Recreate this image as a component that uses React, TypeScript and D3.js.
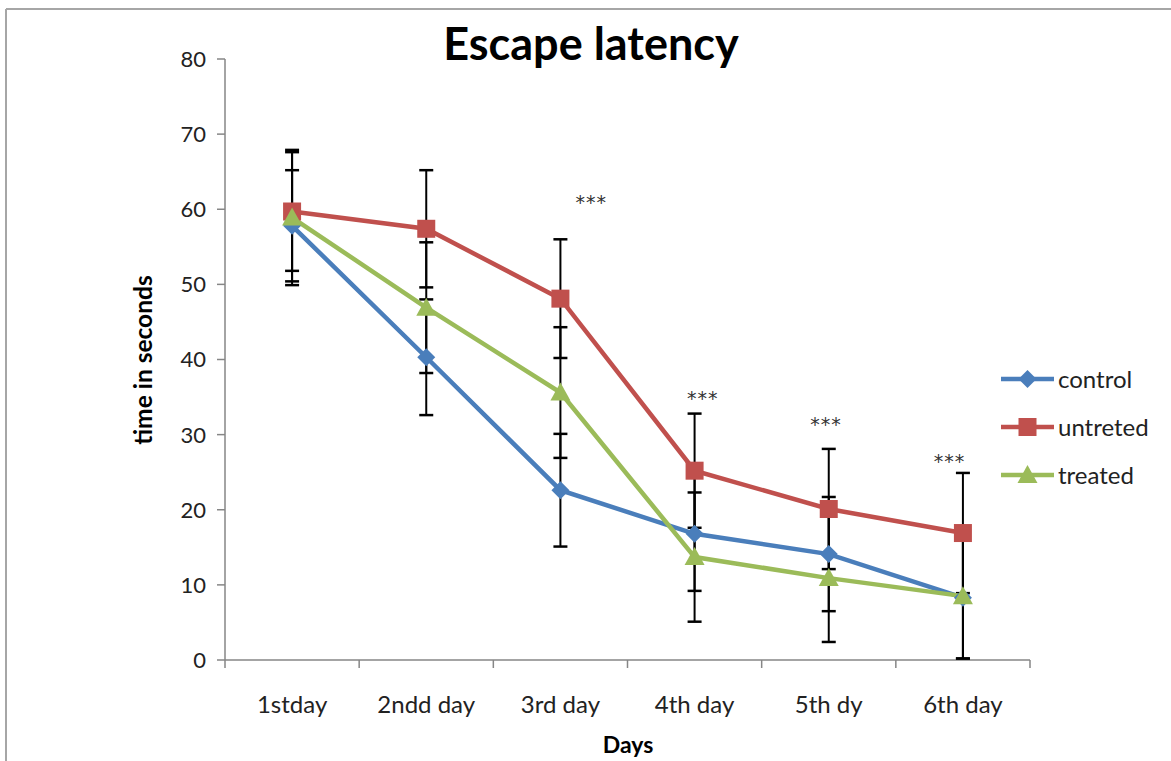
import React from "react";
import * as d3 from "d3";

const days = ["1stday", "2ndd day", "3rd day", "4th day", "5th dy", "6th day"];
const yTicks = [0, 10, 20, 30, 40, 50, 60, 70, 80];

const controlValues = [57.8, 40.3, 22.6, 16.8, 14.1, 8.3];
const controlErrors = [7.4, 7.7, 7.5, 7.6, 7.6, 8.1];
const untretedValues = [59.7, 57.4, 48.1, 25.2, 20.1, 16.9];
const untretedErrors = [7.9, 7.8, 7.9, 7.6, 8.0, 8.0];
const treatedValues = [58.9, 46.9, 35.6, 13.7, 10.9, 8.5];
const treatedErrors = [9.0, 8.7, 8.7, 8.6, 8.5, 8.3];

const seriesNames = ["control", "untreted", "treated"];
const seriesColors = ["#4A7EBB", "#C0504D", "#9BBB59"];
const seriesShapes = ["diamond", "square", "triangle"];

// significance marks: day index, value level
const starDays = [2, 3, 4, 5];
const starLevels = [61.3, 35.2, 31.8, 26.8];
const starShift = [0.23, 0.06, -0.02, -0.1];

const FONT = "Lato, 'Open Sans', sans-serif";

function Marker({ shape, x, y, color }: { shape: string; x: number; y: number; color: string }) {
  if (shape === "square") {
    return <rect x={x - 9} y={y - 9} width={18} height={18} fill={color} />;
  }
  if (shape === "diamond") {
    return <path d={`M${x},${y - 9}L${x + 9},${y}L${x},${y + 9}L${x - 9},${y}Z`} fill={color} />;
  }
  return <path d={`M${x},${y - 10}L${x + 10},${y + 8}L${x - 10},${y + 8}Z`} fill={color} />;
}

export default function App() {
  const W = 1171;
  const H = 761;
  const left = 225;
  const right = 1030;
  const top = 59;
  const bottom = 660;

  const x = d3.scaleBand().domain(days).range([left, right]);
  const y = d3.scaleLinear().domain([0, 80]).range([bottom, top]);
  const cx = (i: number) => (x(days[i]) as number) + x.bandwidth() / 2;

  const series = [
    { values: controlValues, errors: controlErrors },
    { values: untretedValues, errors: untretedErrors },
    { values: treatedValues, errors: treatedErrors },
  ];

  const line = d3
    .line<number>()
    .x((_, i) => cx(i))
    .y((d) => y(d));

  const boundaries = d3.range(days.length + 1).map((i) => left + i * x.bandwidth());

  return (
    <svg width={W} height={H} style={{ position: "absolute", left: 0, top: 0, background: "#fff" }}>
      <rect x={0} y={0} width={W} height={H} fill="#fff" />
      {/* outer frame */}
      <line x1={6} y1={9} x2={W} y2={9} stroke="#a6a6a6" strokeWidth={2} />
      <line x1={6} y1={9} x2={6} y2={H} stroke="#a6a6a6" strokeWidth={2} />

      {/* title */}
      <text x={591} y={60} textAnchor="middle" fontFamily={FONT} fontWeight="bold" fontSize={45} fill="#000">
        Escape latency
      </text>

      {/* y axis */}
      <line x1={left} y1={top} x2={left} y2={bottom} stroke="#868686" strokeWidth={1.5} />
      {yTicks.map((t) => (
        <g key={t}>
          <line x1={left - 8} y1={y(t)} x2={left} y2={y(t)} stroke="#868686" strokeWidth={1.5} />
          <text x={206} y={y(t)} dy="0.36em" textAnchor="end" fontFamily={FONT} fontSize={22} fill="#222">
            {t}
          </text>
        </g>
      ))}

      {/* x axis */}
      <line x1={left} y1={bottom} x2={right} y2={bottom} stroke="#868686" strokeWidth={1.5} />
      {boundaries.map((b, i) => (
        <line key={i} x1={b} y1={bottom} x2={b} y2={bottom + 8} stroke="#868686" strokeWidth={1.5} />
      ))}
      {days.map((d, i) => (
        <text key={d} x={cx(i)} y={704} dy="0.36em" textAnchor="middle" fontFamily={FONT} fontSize={24} fill="#222">
          {d}
        </text>
      ))}

      {/* axis titles */}
      <text x={628} y={745} dy="0.36em" textAnchor="middle" fontFamily={FONT} fontWeight="bold" fontSize={23} fill="#000">
        Days
      </text>
      <text
        transform={`translate(143,360) rotate(-90)`}
        dy="0.36em"
        textAnchor="middle"
        fontFamily={FONT}
        fontWeight="bold"
        fontSize={24.5}
        fill="#000"
      >
        time in seconds
      </text>

      {/* error bars */}
      {series.map((s, si) =>
        s.values.map((v, i) => {
          const hi = y(v + s.errors[i]);
          const lo = y(Math.max(0, v - s.errors[i]));
          const px = cx(i);
          return (
            <g key={`e${si}-${i}`} stroke="#000" strokeWidth={2}>
              <line x1={px} y1={hi} x2={px} y2={lo} />
              <line x1={px - 7} y1={hi} x2={px + 7} y2={hi} strokeWidth={2.5} />
              <line x1={px - 7} y1={lo} x2={px + 7} y2={lo} strokeWidth={2.5} />
            </g>
          );
        })
      )}

      {/* lines */}
      {series.map((s, si) => (
        <path key={`l${si}`} d={line(s.values) as string} fill="none" stroke={seriesColors[si]} strokeWidth={4.5} />
      ))}
      {/* markers */}
      {series.map((s, si) =>
        s.values.map((v, i) => (
          <Marker key={`m${si}-${i}`} shape={seriesShapes[si]} x={cx(i)} y={y(v)} color={seriesColors[si]} />
        ))
      )}

      {/* stars */}
      {starDays.map((d, k) => (
        <text
          key={`s${k}`}
          x={cx(d) + starShift[k] * x.bandwidth()}
          y={y(starLevels[k])}
          dy="0.5em"
          textAnchor="middle"
          fontFamily="'DejaVu Sans', sans-serif"
          fontSize={19}
          letterSpacing={1}
          fill="#333"
        >
          ***
        </text>
      ))}

      {/* legend */}
      {seriesNames.map((n, i) => {
        const ly = 379 + i * 48;
        return (
          <g key={n}>
            <line x1={1001} y1={ly} x2={1054} y2={ly} stroke={seriesColors[i]} strokeWidth={4.5} />
            <Marker shape={seriesShapes[i]} x={1027.5} y={ly} color={seriesColors[i]} />
            <text x={1058} y={ly} dy="0.36em" fontFamily={FONT} fontSize={24} fill="#222">
              {n}
            </text>
          </g>
        );
      })}
    </svg>
  );
}
